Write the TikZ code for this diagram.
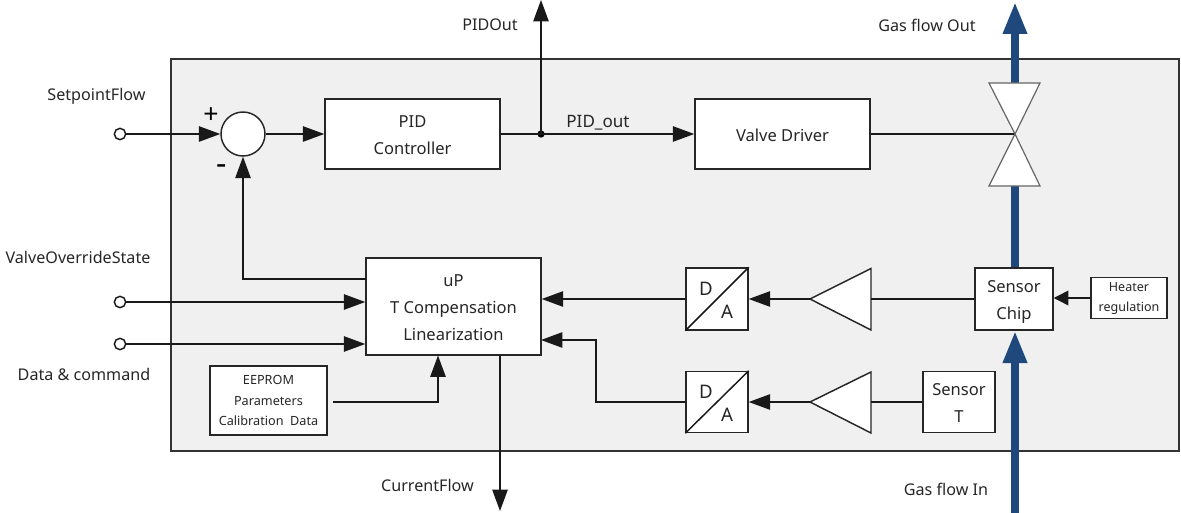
\documentclass[tikz,border=0pt]{standalone}
\usepackage{fontspec}
\setmainfont{Noto Sans}
\usetikzlibrary{arrows.meta,calc}
\definecolor{gasblue}{HTML}{1F497D}
\definecolor{panel}{HTML}{F0F0F0}
\definecolor{ink}{HTML}{262626}
\newcommand{\fs}[2]{\fontsize{#1}{#2}\selectfont}
\newcommand{\bx}[7][]{% options for text, name, x1 y1 x2 y2, text
  \node[boxn,minimum width=(#5-#3)*0.75pt,minimum height=(#6-#4)*0.75pt] (#2) at ({(#3+#5)/2},{(#4+#6)/2}) {};
  \node[boxtxt,#1] (#2T) at (#2.center) {#7};}
\tikzset{
  x=0.75pt,y=-0.75pt,
  boxn/.style={draw=black!85,fill=white,line width=1.1pt,inner sep=0pt},
  boxtxt/.style={inner sep=0pt,align=center,text=ink,yshift=-0.75pt,font=\fs{12.4}{20.2}},
  lbl/.style={inner sep=0pt,text=ink,font=\fs{12.1}{14}},
  wire/.style={line width=1.1pt,draw=black!90},
  arr/.style={wire,-{Triangle[length=16pt,width=11.5pt]}},
  arrs/.style={wire,-{Triangle[length=11pt,width=11pt]}},
  gas/.style={line width=5.6pt,draw=gasblue,-{Triangle[length=24pt,width=17pt]}},
  gasline/.style={line width=5.6pt,draw=gasblue},
  port/.style={circle,draw=black!90,fill=white,line width=1.1pt,minimum size=8.5pt,inner sep=0pt},
  valvetri/.style={draw=black!60,fill=white,line width=0.9pt},
  amptri/.style={draw=black!85,fill=white,line width=1.1pt},
  dot/.style={circle,fill=black,minimum size=5.5pt,inner sep=0pt},
}
\begin{document}
\begin{tikzpicture}
\useasboundingbox (0,0) rectangle (1181,513);
% panel
\node[draw=black!80,fill=panel,line width=1.1pt,minimum width=(1179-171)*0.75pt,minimum height=(451-59)*0.75pt,inner sep=0pt] (panelbox) at (675,255) {};
% named points
\coordinate (gasTop) at (1015,2);
\coordinate (valveTop) at (1015,83);
\coordinate (valveMid) at (1015,134);
\coordinate (valveBot) at (1015,186);
\coordinate (gasBottom) at (1015,513);
\coordinate (junctionPt) at (541,134);
\coordinate (pidTop) at (541,0);
\coordinate (curEnd) at (500,511);
% gas lines
\draw[gas] (valveTop) -- (gasTop);
% boxes
\node[circle,draw=black!85,fill=white,line width=1.1pt,minimum size=33pt,inner sep=0pt] (sum) at (243,134) {};
\bx{pid}{325}{99}{500}{169}{PID\\Controller}
\bx{driver}{695}{99}{870}{169}{Valve Driver}
\bx{up}{366}{258}{541}{355}{uP\\T Compensation\\Linearization}
\bx[yshift=-1.5pt]{chip}{975}{268}{1053}{330}{Sensor\\Chip}
\bx[font=\fs{9.4}{15}]{heater}{1091}{277.5}{1167}{318.5}{Heater\\regulation}
\bx{sensT}{923}{371.5}{995}{432.5}{Sensor\\T}
\bx[yshift=0.75pt,font=\fs{9.5}{15.2}]{eeprom}{210}{366}{327}{435}{EEPROM\\Parameters\\Calibration~~Data}
\bx{da1}{686}{268}{748}{330}{}
\bx{da2}{686}{371.5}{748}{432.5}{}
\draw[line width=1.1pt,black!90] (da1.south west) -- (da1.north east);
\draw[line width=1.1pt,black!90] (da2.south west) -- (da2.north east);
\node[text=ink,font=\fs{14}{16},inner sep=0pt] (da1D) at (706,289) {D};
\node[text=ink,font=\fs{14}{16},inner sep=0pt] (da1A) at (727,312) {A};
\node[text=ink,font=\fs{14}{16},inner sep=0pt] (da2D) at (706,392) {D};
\node[text=ink,font=\fs{14}{16},inner sep=0pt] (da2A) at (727,415) {A};
% amplifiers
\coordinate (amp1tip) at (810,299);
\coordinate (amp1base) at (871,299);
\coordinate (amp2tip) at (810,402);
\coordinate (amp2base) at (871,402);
\draw[amptri] (amp1tip) -- (871,268.5) -- (871,330) -- cycle;
\draw[amptri] (amp2tip) -- (871,372) -- (871,433) -- cycle;
% ports
\node[port] (pSet) at (120,134) {};
\node[port] (pValve) at (120,302) {};
\node[port] (pData) at (120,344) {};
% connectors
\draw[arr] (pSet) -- (sum);
\draw[arr] (sum) -- (pid);
\node[dot] (junction) at (junctionPt) {};
\draw[arr] (pid.east) -- (driver.west);
\draw[arr] (junction.center) -- (pidTop);
\draw[wire] (driver.east) -- (valveMid);
\coordinate (upFb) at (366,279);
\draw[arr] (upFb) -| (sum.south);
\draw[arr] (pValve) -- (pValve -| up.west);
\draw[arr] (pData) -- (pData -| up.west);
\coordinate (eeOut) at (333,402);
\draw[arr] (eeOut) -| (438,355.5);
\draw[arr] (da1.west) -- (da1.west -| up.east);
\coordinate (upIn2) at (541,340);
\draw[arr] (da2.west) -| (596,340) -- (upIn2);
\draw[arr] (amp1tip) -- (da1.east);
\draw[arr] (amp2tip) -- (da2.east);
\draw[wire] (chip.west) -- (amp1base);
\draw[wire] (sensT.west) -- (amp2base);
\draw[arrs] (heater.west) -- (chip.east |- heater.west);
\draw[arr] (up.south -| curEnd) -- (curEnd);
% gas lower
\draw[gasline] (valveBot) -- (chip.north -| valveBot);
\draw[gas] (gasBottom) -- (1015,331);
% valve
\draw[valvetri] (989,83) -- (1040,83) -- (valveMid) -- cycle;
\draw[valvetri] (989,186) -- (1040,186) -- (valveMid) -- cycle;
% labels
\node[lbl] (lSet) at (96.5,96) {SetpointFlow};
\node[lbl] (lValve) at (78,257) {ValveOverrideState};
\node[lbl] (lData) at (84,374) {Data \& command};
\node[lbl] (lPid) at (490,25) {PIDOut};
\node[lbl] (lGasOut) at (927,25) {Gas flow Out};
\node[lbl] (lCur) at (427.5,485) {CurrentFlow};
\node[lbl] (lGasIn) at (946,489) {Gas flow In};
\node[lbl,font=\fs{12.8}{14}] (lPidOut) at (598,123) {PID\_out};
\node[inner sep=0pt,font=\bfseries\fs{20}{20}] (plus) at (211,116) {+};
\node[inner sep=0pt,font=\bfseries\fs{24}{24}] (minus) at (222,170) {-};
\end{tikzpicture}
\end{document}
